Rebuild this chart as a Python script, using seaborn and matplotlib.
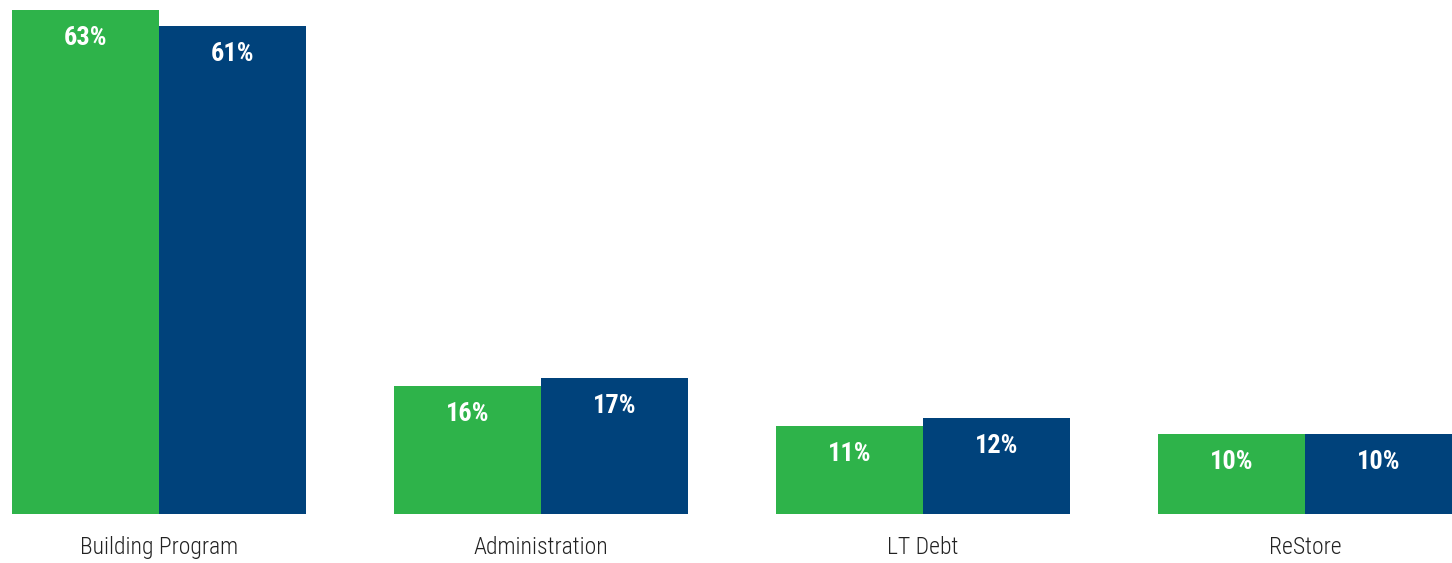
import matplotlib
matplotlib.use("Agg")
import matplotlib.pyplot as plt
import seaborn as sns
import pandas as pd

categories = ["Building Program", "Administration", "LT Debt", "ReStore"]
series_names = ["Series A", "Series B"]
green_values = [63, 16, 11, 10]
blue_values = [61, 17, 12, 10]

df = pd.DataFrame({
    "category": categories * 2,
    "series": [series_names[0]] * 4 + [series_names[1]] * 4,
    "value": green_values + blue_values,
})

sns.set_style("white")
plt.rcParams["font.family"] = ["Roboto Condensed", "Roboto", "DejaVu Sans"]

fig = plt.figure(figsize=(14.52, 5.63), dpi=100)
ax = fig.add_axes([12 / 1452, 49 / 563, 1 - 12 / 1452, (514 - 10) / 563])

palette = {series_names[0]: "#2EB34A", series_names[1]: "#00427B"}
sns.barplot(data=df, x="category", y="value", hue="series", palette=palette,
            width=0.768, saturation=1, legend=False, ax=ax, errorbar=None,
            linewidth=0)

ax.set_xlim(-0.384, 3.384)
ax.set_ylim(0, 63)
for c in ax.containers:
    ax.bar_label(c, labels=[f"{v:.0f}%" for v in c.datavalues], padding=-29,
                 color="white", fontsize=19, fontweight="bold")

ax.set_xlabel("")
ax.set_ylabel("")
ax.set_yticks([])
ax.tick_params(axis="x", length=0, pad=16, labelsize=17, labelcolor="#222222")
for lbl in ax.get_xticklabels():
    lbl.set_fontweight("light")
for s in ax.spines.values():
    s.set_visible(False)

fig.savefig("out.png", dpi=100)
